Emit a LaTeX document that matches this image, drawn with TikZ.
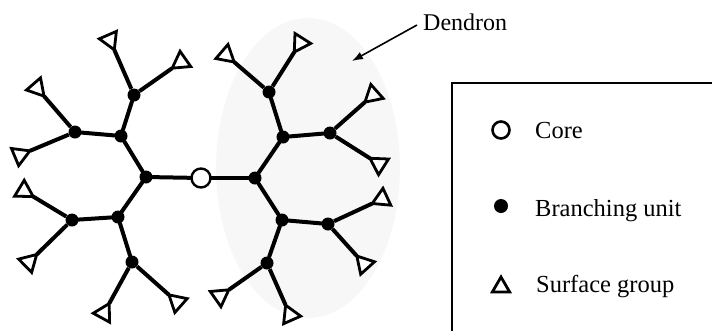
\documentclass[tikz,border=0pt]{standalone}
\usepackage{fontspec}
\setmainfont{Liberation Serif}
\usetikzlibrary{shapes.geometric,arrows.meta}
\newcommand\surfgroup[3]{%
  \path (#2) coordinate (#1-c);
  \pgfmathanglebetweenpoints{\pgfpointanchor{#1-c}{center}}{\pgfpointanchor{#3}{center}}%
  \pgfmathsetmacro\sgang{\pgfmathresult-90}%
  \node[surf, shape border rotate=\sgang] (#1) at (#1-c) {};
  \draw[bond, line cap=butt] (#3) -- (#1.corner 1);
}
\begin{document}
\begin{tikzpicture}[x=1pt,y=-1pt,
  bond/.style={line width=4pt, line cap=round},
  branch/.style={circle, fill=black, inner sep=0pt, minimum size=13pt},
  core/.style={circle, draw, fill=white, line width=2.4pt, inner sep=0pt, minimum size=19pt},
  surf/.style={regular polygon, regular polygon sides=3, draw, fill=white, line width=2.8pt, inner sep=0pt, outer sep=0pt, minimum size=21.5pt},
  lbl/.style={font=\fontsize{24.5}{28}\selectfont, inner sep=0pt, anchor=base west},
]
\useasboundingbox (0,0) rectangle (712,330);
% faint halftone area of the dendron
\fill[black!3] (308,168) ellipse [x radius=92pt, y radius=150pt];

% core and branching units
\node[branch] (A)  at (146,177) {};
\node[branch] (B1) at (121,136) {};
\node[branch] (B2) at (118,217) {};
\node[branch] (C1) at (75,132) {};
\node[branch] (C2) at (134,95) {};
\node[branch] (C3) at (72,220) {};
\node[branch] (C4) at (132,262) {};
\node[branch] (Ar) at (255,178) {};
\node[branch] (B3) at (283,137) {};
\node[branch] (B4) at (282,220) {};
\node[branch] (C5) at (269,92) {};
\node[branch] (C6) at (330,133) {};
\node[branch] (C7) at (328,224) {};
\node[branch] (C8) at (267,263) {};
\node[core] (core) at (201,178) {};

\draw[bond] (core) -- (A);
\draw[bond] (core) -- (Ar);
\draw[bond] (A) -- (B1);
\draw[bond] (A) -- (B2);
\draw[bond] (B1) -- (C1);
\draw[bond] (B1) -- (C2);
\draw[bond] (B2) -- (C3);
\draw[bond] (B2) -- (C4);
\draw[bond] (Ar) -- (B3);
\draw[bond] (Ar) -- (B4);
\draw[bond] (B3) -- (C5);
\draw[bond] (B3) -- (C6);
\draw[bond] (B4) -- (C7);
\draw[bond] (B4) -- (C8);

% surface groups
\surfgroup{T1}{110,40}{C2}
\surfgroup{T2}{181,62}{C2}
\surfgroup{T3}{37,88}{C1}
\surfgroup{T4}{20,155}{C1}
\surfgroup{T5}{24,191}{C3}
\surfgroup{T6}{29,262}{C3}
\surfgroup{T7}{104,313}{C4}
\surfgroup{T8}{177,302}{C4}
\surfgroup{T9}{226,55}{C5}
\surfgroup{T10}{300,43}{C5}
\surfgroup{T11}{373,95}{C6}
\surfgroup{T12}{379,164}{C6}
\surfgroup{T13}{382,199}{C7}
\surfgroup{T14}{364,264}{C7}
\surfgroup{T15}{220,296}{C8}
\surfgroup{T16}{290,315}{C8}

% label
\node[lbl, font=\fontsize{24}{28}\selectfont] (dendron) at (423,30) {Dendron};
\coordinate (arrS) at (417,25);
\coordinate (arrE) at (352,61);
\draw[line width=1.6pt, -{Latex[length=11pt,width=8pt]}] (arrS) -- (arrE);

% legend
\draw[line width=2.4pt] (452,340) -- (452,83) -- (720,83);
\node[core, minimum size=17pt, line width=2.6pt] (lcore) at (501,130) {};
\node[branch, minimum size=14pt] (lbranch) at (501,206) {};
\node[surf, minimum size=20pt, line width=2.8pt] (lsurf) at (501,287) {};
\node[lbl] (tcore) at (535,138) {Core};
\node[lbl] (tbranch) at (535,216) {Branching unit};
\node[lbl] (tsurf) at (536,292) {Surface group};
\end{tikzpicture}
\end{document}
